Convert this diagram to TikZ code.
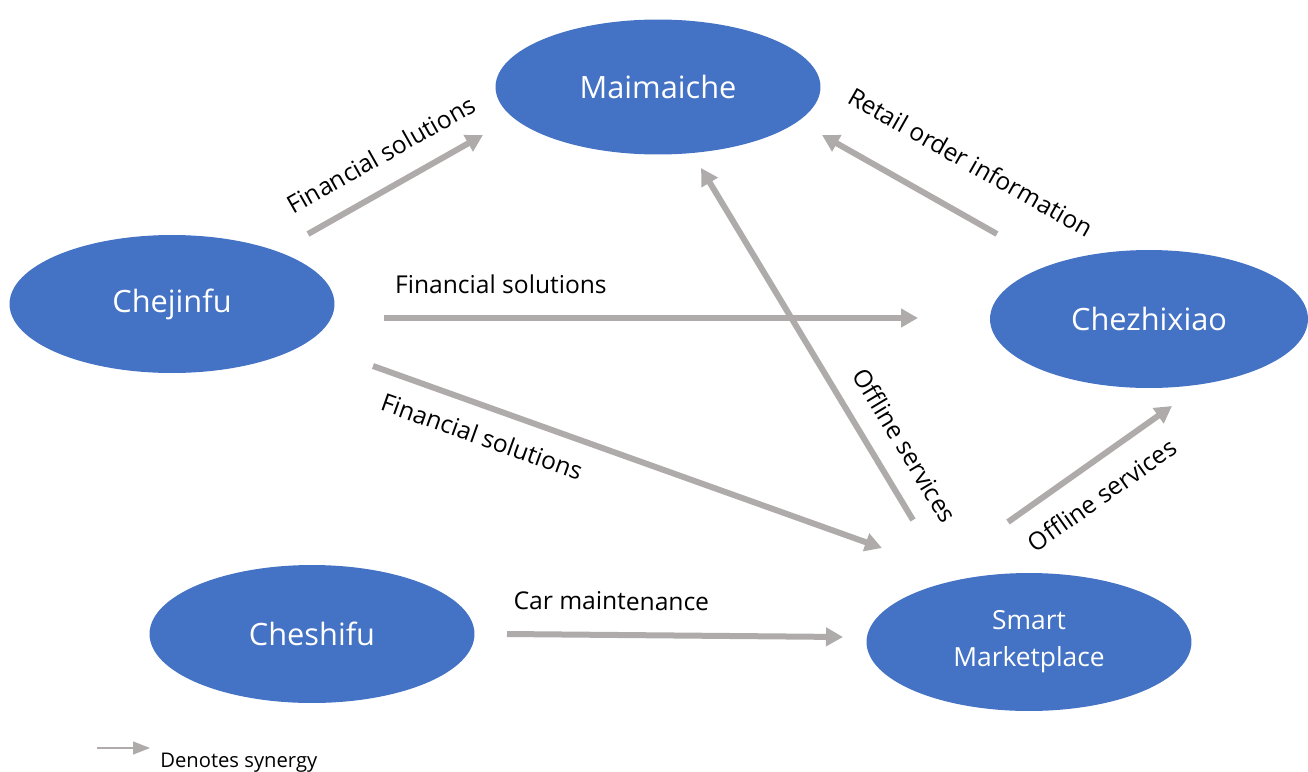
\documentclass[tikz,border=0pt]{standalone}
\usepackage{fontspec}
\setmainfont{Open Sans}
\usetikzlibrary{shapes.geometric,arrows.meta,positioning}
\definecolor{unitblue}{HTML}{4472C4}
\definecolor{linkgray}{HTML}{AFABAB}
\tikzset{
unit/.style = {ellipse, fill=unitblue, text=white, minimum width=6.5cm, minimum height=2.76cm, inner sep=0pt, align=center, font=\fontsize{17.5}{21}\selectfont},
synergy/.style = {draw=linkgray, line width=0.12cm, -{Triangle[length=0.34cm,width=0.36cm]}},
tag/.style = {sloped, anchor=base, inner sep=0pt, font=\fontsize{14}{17}\selectfont},
}

\begin{document}
\begin{tikzpicture}[x=0.02cm, y=-0.02cm]
\useasboundingbox (0,0) rectangle (1308,771);
\node [unit, minimum height=2.7cm] (maimaiche) at (658,87) {Maimaiche};
\node [unit] (chejinfu) at (172,304) {Chejinfu};
\node [unit, minimum width=6.36cm] (chezhixiao) at (1149,319) {Chezhixiao};
\node [unit] (cheshifu) at (312,634) {Cheshifu};
\node [unit, font=\fontsize{15}{21}\selectfont] (market) at (1029,642) {Smart\\Marketplace};

\draw [synergy] ([shift={(136,-70)}]chejinfu.center) -- node [tag, pos=0.51, yshift=0.48cm] {Financial solutions} ([shift={(-175,48)}]maimaiche.center);
\draw [synergy] ([shift={(212,14)}]chejinfu.center) -- node [tag, pos=0.219, yshift=0.49cm] {Financial solutions} ([shift={(-231,-1)}]chezhixiao.center);
\draw [synergy] ([shift={(201,62)}]chejinfu.center) -- node [tag, pos=0.234, yshift=-0.78cm] {Financial solutions} ([shift={(-147,-94)}]market.center);
\draw [synergy] ([shift={(-152,-85)}]chezhixiao.center) -- node [tag, pos=0.29, yshift=0.81cm] {Retail order information} ([shift={(164,48)}]maimaiche.center);
\draw [synergy] ([shift={(-116,-122)}]market.center) -- node [tag, pos=0.166, yshift=0.45cm] {Offline services} ([shift={(43,81)}]maimaiche.center);
\draw [synergy] ([shift={(-21,-120)}]market.center) -- node [tag, pos=0.46, yshift=-0.83cm] {Offline services} ([shift={(23,87)}]chezhixiao.center);
\draw [synergy] ([shift={(195,0)}]cheshifu.center) -- node [tag, pos=0.31, yshift=0.5cm] {Car maintenance} ([shift={(-186,-5)}]market.center);

\coordinate (keyfrom) at (97,748);
\coordinate (keyto) at (150,748);
\node [anchor=base west, inner sep=0pt, font=\fontsize{11.5}{14}\selectfont] (keytext) at (160,767) {Denotes synergy};
\draw [draw=linkgray, line width=0.03cm, -{Triangle[length=0.34cm,width=0.26cm]}] (keyfrom) -- (keyto);
\end{tikzpicture}
\end{document}
